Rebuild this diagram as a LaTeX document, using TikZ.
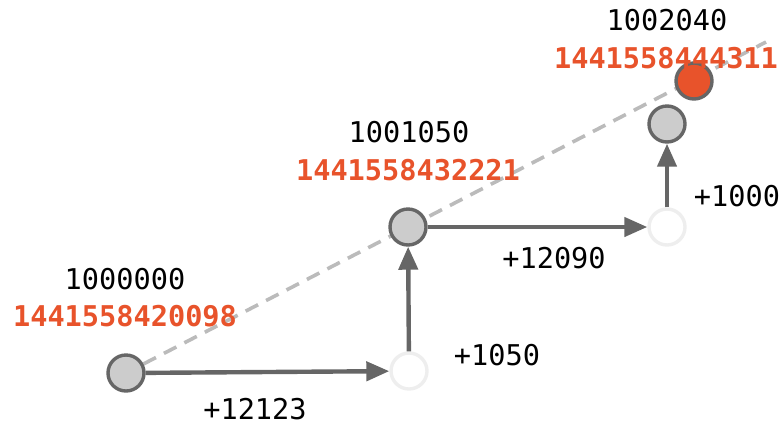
\documentclass[tikz,border=0pt]{standalone}
\usepackage{fontspec}
\setmonofont{DejaVu Sans Mono}
\usetikzlibrary{arrows.meta,backgrounds}

\definecolor{dotline}{HTML}{666666}
\definecolor{dotfill}{HTML}{CCCCCC}
\definecolor{ghostline}{HTML}{EEEEEE}
\definecolor{trailgray}{HTML}{BBBBBB}
\definecolor{stampred}{HTML}{E8532B}

\tikzset{
  dot/.style={circle, draw=dotline, fill=dotfill, line width=1.7pt,
    minimum size=18pt, inner sep=0pt},
  ghost/.style={dot, draw=ghostline, fill=white},
  hit/.style={dot, fill=stampred},
  hop/.style={draw=dotline, line width=2.2pt,
    -{Triangle[length=11.5pt,width=9.5pt]}},
  trail/.style={draw=trailgray, line width=1.8pt, dash pattern=on 7pt off 4.5pt},
  num/.style={font=\fontsize{14.3}{17}\selectfont\ttfamily, inner sep=0pt},
  stamp/.style={num, font=\fontsize{14.3}{17}\selectfont\ttfamily\bfseries, text=stampred}
}

\begin{document}
\begin{tikzpicture}[x=0.5pt,y=-0.5pt]
\useasboundingbox (0,0) rectangle (780,424);

% points on the path
\node[dot]   (start) at (126,373) {};
\node[ghost] (turn1) at (409,371) {};
\node[dot]   (mid)   at (408,227) {};
\node[ghost] (turn2) at (667,227) {};
\node[dot]   (top)   at (667,124) {};
\node[hit]   (goal)  at (694,81) {};
\coordinate (tail) at (766,42);

% straight line through the points
\begin{scope}[on background layer]
\draw[trail] (start) -- (tail);
\end{scope}

% steps
\draw[hop] (start) -- (turn1);
\draw[hop] (turn1) -- (mid);
\draw[hop] (mid) -- (turn2);
\draw[hop] (turn2) -- (top);

\node[num] at (255,409) {+12123};
\node[num] at (497,355) {+1050};
\node[num] at (554,258) {+12090};
\node[num] at (737,196) {+1000};

\node[num]   at (125,279) {1000000};
\node[stamp] at (125,316) {1441558420098};
\node[num]   at (409,132) {1001050};
\node[stamp] at (408,170) {1441558432221};
\node[num]   at (667,20)  {1002040};
\node[stamp] at (666,58)  {1441558444311};
\end{tikzpicture}
\end{document}
